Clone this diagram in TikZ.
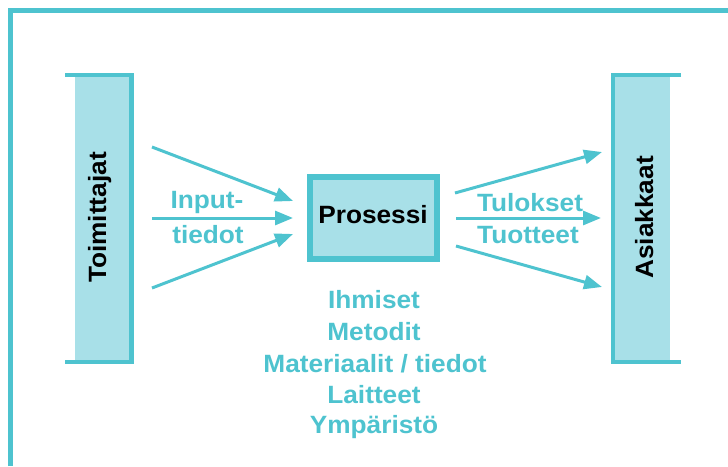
\documentclass[tikz,border=0pt]{standalone}
\usepackage{fontspec}
\setmainfont{Liberation Sans}[FakeStretch=1.05]
\usetikzlibrary{arrows.meta}
\definecolor{teal1}{RGB}{78,195,207}
\definecolor{lightfill}{RGB}{168,224,232}
\tikzset{
  lbl/.style={font=\fontsize{25}{30}\selectfont\bfseries, inner sep=0pt},
  tlbl/.style={lbl, text=teal1},
  klbl/.style={lbl, text=black},
  flow/.style={draw=teal1, line width=3pt, -{Triangle[length=18pt,width=14pt]}},
  bracket/.style={draw=teal1, line width=4.5pt},
}
\begin{document}
\begin{tikzpicture}[x=1pt,y=-1pt]
\useasboundingbox (0,0) rectangle (728,466);
% frame
\draw[draw=teal1, line width=5pt] (10.5,466) -- (10.5,10) -- (728,10);
% left bar
\node[fill=lightfill, minimum width=55pt, minimum height=284pt, inner sep=0pt, anchor=north west] (lbar) at (75,77) {};
\draw[bracket] (65,75) -- (131.5,75) -- (131.5,362) -- (65,362);
\node[klbl, rotate=90, anchor=base] (toim) at (106,217.5) {Toimittajat};
% right bar
\node[fill=lightfill, minimum width=55pt, minimum height=284pt, inner sep=0pt, anchor=north west] (rbar) at (615,77) {};
\draw[bracket] (681,75) -- (613,75) -- (613,362) -- (681,362);
\node[klbl, rotate=90, anchor=base] (asia) at (653,217.5) {Asiakkaat};
% process
\node[draw=teal1, line width=6pt, fill=lightfill, minimum width=127pt, minimum height=82.5pt, inner sep=0pt] (proc) at (373.5,217.75) {};
\node[klbl, anchor=base] (proct) at (373,223) {Prosessi};
% input arrows
\coordinate (i1s) at (152,147); \coordinate (i1e) at (293,201);
\coordinate (i2s) at (152,218); \coordinate (i2e) at (293,218);
\coordinate (i3s) at (152,288); \coordinate (i3e) at (293,234);
\draw[flow] (i1s) -- (i1e);
\draw[flow] (i2s) -- (i2e);
\draw[flow] (i3s) -- (i3e);
% output arrows
\coordinate (o1s) at (455,193); \coordinate (o1e) at (602,152);
\coordinate (o2s) at (456,218); \coordinate (o2e) at (601,218);
\coordinate (o3s) at (456,246); \coordinate (o3e) at (602,287);
\draw[flow] (o1s) -- (o1e);
\draw[flow] (o2s) -- (o2e);
\draw[flow] (o3s) -- (o3e);
% labels
\node[tlbl, anchor=base] (in1) at (207,208) {Input-};
\node[tlbl, anchor=base] (in2) at (208,243) {tiedot};
\node[tlbl, anchor=base] (out1) at (530,211) {Tulokset};
\node[tlbl, anchor=base] (out2) at (528,243) {Tuotteet};
\node[tlbl, anchor=base] (r1) at (374,308) {Ihmiset};
\node[tlbl, anchor=base] (r2) at (374,340) {Metodit};
\node[tlbl, anchor=base] (r3) at (375,372) {Materiaalit / tiedot};
\node[tlbl, anchor=base] (r4) at (374,403) {Laitteet};
\node[tlbl, anchor=base] (r5) at (374,433.5) {Ympäristö};
\end{tikzpicture}
\end{document}
